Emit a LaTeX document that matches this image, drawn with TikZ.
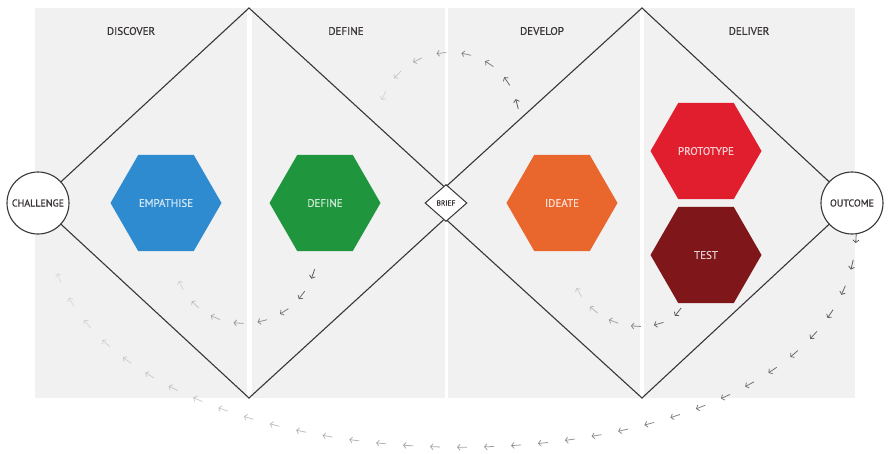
\documentclass[tikz,border=0pt]{standalone}
\usepackage{fontspec}
\setmainfont{PT Sans}
\newfontfamily\labelfont{PT Sans}[FakeBold=0.6]
\usepackage{xcolor}
\usetikzlibrary{shapes.geometric}
\usetikzlibrary{arrows.meta}
\usetikzlibrary{decorations.markings}
\definecolor{panelgray}{HTML}{F1F1F2}
\definecolor{linegray}{HTML}{3A3536}
\definecolor{trailgray}{HTML}{4A4A4A}
\definecolor{hexblue}{HTML}{2F8BCF}
\definecolor{hexgreen}{HTML}{1F963E}
\definecolor{hexorange}{HTML}{E9672C}
\definecolor{hexred}{HTML}{E01E2D}
\definecolor{hexdark}{HTML}{7F161A}
\tikzset{panel/.style={fill=panelgray,draw=none},
 phase/.style={text=linegray,font=\labelfont\fontsize{11}{13}\selectfont},
 hexa/.style={regular polygon,regular polygon sides=6,minimum size=111pt,inner sep=0pt,
   draw=none,fill=#1,text=#1!22!white,font=\labelfont\fontsize{11}{13}\selectfont},
 endpoint/.style={circle,draw=linegray,line width=1.1pt,fill=white,minimum size=62pt,
   inner sep=0pt,text=linegray,font=\labelfont\fontsize{10}{12}\selectfont},
 brief/.style={diamond,draw=linegray,line width=1pt,fill=white,minimum width=42pt,
   minimum height=37pt,inner sep=0pt,text=linegray,font=\labelfont\fontsize{7.5}{9}\selectfont},
 outline/.style={draw=linegray,line width=1.1pt},
 trailtick/.style={-{Straight Barb[length=2.5pt,width=6pt]},line width=0.8pt,draw=trailgray},
 trail/.style={decorate,decoration={markings,
   mark=between positions 0 and 1 step #1 with {
     \pgfmathsetmacro\fade{0.9-0.8*\pgfkeysvalueof{/pgf/decoration/mark info/distance from start}/\pgfdecoratedpathlength}
     \draw[trailtick,draw opacity=\fade] (-5pt,0) -- (5pt,0);}}},
}
\begin{document}
\begin{tikzpicture}[x=1pt,y=-1pt]
        \useasboundingbox (0,0) rectangle (889,453);
        \fill[panel] (35,8) rectangle (247,398);
        \fill[panel] (252,8) rectangle (445,398);
        \fill[panel] (448,8) rectangle (640,398);
        \fill[panel] (644,8) rectangle (855,398);
        \node[phase] (discover) at (131,31) {DISCOVER};
        \node[phase] (define) at (346,31) {DEFINE};
        \node[phase] (develop) at (542,31) {DEVELOP};
        \node[phase] (deliver) at (749,31) {DELIVER};
        \coordinate (d1 top) at (249,8);
        \coordinate (d1 right) at (462,203);
        \coordinate (d1 bottom) at (249,398);
        \coordinate (d1 left) at (38,203);
        \coordinate (d2 top) at (642,8);
        \coordinate (d2 right) at (852,203);
        \coordinate (d2 bottom) at (642,398);
        \coordinate (d2 left) at (428,203);
        \draw[outline] (d1 left) -- (d1 top) -- (d1 right) -- (d1 bottom) -- cycle;
        \draw[outline] (d2 left) -- (d2 top) -- (d2 right) -- (d2 bottom) -- cycle;
        \coordinate (top start) at (517,104);
        \coordinate (top end) at (380,106);
        \coordinate (define start) at (313,274);
        \coordinate (define end) at (176,272);
        \coordinate (deliver start) at (678,312);
        \coordinate (deliver end) at (572,276);
        \coordinate (back start) at (856,238);
        \coordinate (back end) at (52,255);
        \path[trail=25pt] (top start) .. controls (500,35) and (400,35) .. (top end);
        \path[trail=24pt] (define start) .. controls (290,340) and (195,340) .. (define end);
        \path[trail=23pt] (deliver start) .. controls (660,335) and (590,335) .. (deliver end);
        \path[trail=27pt] (back start) .. controls (840,514) and (110,514) .. (back end);
        \node[hexa=hexblue] (empathise) at (166,203) {EMPATHISE};
        \node[hexa=hexgreen] (definehex) at (325,203) {DEFINE};
        \node[hexa=hexorange] (ideate) at (562,203) {IDEATE};
        \node[hexa=hexred] (prototype) at (706,151) {PROTOTYPE};
        \node[hexa=hexdark] (test) at (706,255) {TEST};
        \node[endpoint] (challenge) at (d1 left) {CHALLENGE};
        \node[endpoint] (outcome) at (d2 right) {OUTCOME};
        \node[brief] (brief) at (446,203) {BRIEF};
    \end{tikzpicture}
\end{document}
